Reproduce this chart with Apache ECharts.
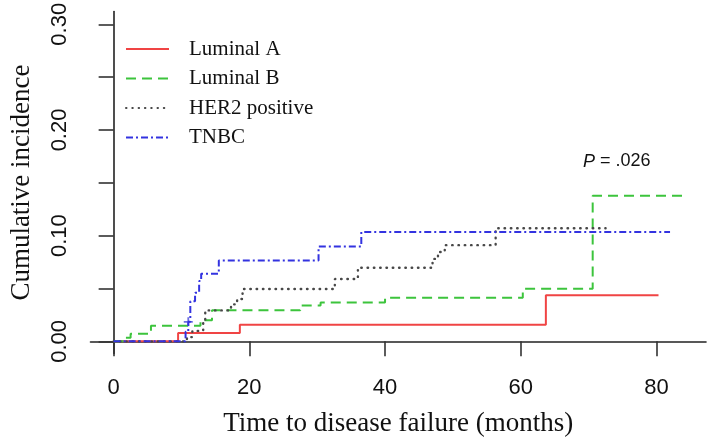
<!DOCTYPE html>
<html>
<head>
<meta charset="utf-8">
<script src="https://cdn.jsdelivr.net/npm/echarts@6/dist/echarts.min.js"></script>
<style>html,body{margin:0;padding:0;background:#fff;}#c{width:709px;height:442px;}</style>
</head>
<body>
<div id="c"></div>
<script>
// ---- data (time in months, cumulative incidence) ----
const seriesNames = ['Luminal A', 'Luminal B', 'HER2 positive', 'TNBC'];

const lumA_time = [0, 9.5, 18.6, 63.7, 80.3];
const lumA_cif  = [0, 0.0078, 0.0156, 0.0435, 0.0435];

const lumB_time = [0, 1.5, 2.5, 5.5, 12.8, 14.5, 27.5, 30.5, 40.0, 60.3, 70.6, 84.2];
const lumB_cif  = [0, 0.0035, 0.0072, 0.0148, 0.020, 0.0295, 0.034, 0.0368, 0.0412, 0.0497, 0.1378, 0.1378];

const her2_time = [0, 10.8, 11.6, 13.2, 13.5, 17.3, 18.2, 19.0, 32.6, 36.0, 47.0, 47.8, 48.8, 56.3, 72.5];
const her2_cif  = [0, 0.004, 0.0099, 0.020, 0.0293, 0.035, 0.040, 0.0495, 0.059, 0.0697, 0.078, 0.0845, 0.091, 0.107, 0.107];

const tnbc_time = [0, 10.6, 11.0, 11.3, 12.0, 12.6, 12.9, 15.5, 30.2, 36.5, 82.0];
const tnbc_cif  = [0, 0.009, 0.0185, 0.038, 0.046, 0.057, 0.064, 0.0765, 0.0897, 0.1035, 0.1035];

// visible censoring mark ("+") on the TNBC curve
const tnbc_censor_time = [11.0];
const tnbc_censor_cif  = [0.0185];

const xTicks = [0, 20, 40, 60, 80];
const yLabelTicks = [0, 0.10, 0.20, 0.30];
const yMinorTicks = [0, 0.05, 0.10, 0.15, 0.20, 0.25, 0.30];

const pValueText = '.026';

function pairs(t, v) { return t.map((x, i) => [x, v[i]]); }

const chart = echarts.init(document.getElementById('c'), null, {renderer: 'canvas'});

const sans = 'Liberation Sans, Arial, sans-serif';
const serif = 'Liberation Serif, Times New Roman, serif';

function mk(name, t, v, color, type, width, cap) {
  return {
    name: name, type: 'line', step: 'end', data: pairs(t, v),
    symbol: 'none', silent: true, animation: false,
    lineStyle: {color: color, type: type, width: width, cap: cap || 'butt'},
    itemStyle: {color: color}
  };
}

chart.setOption({
  animation: false,
  backgroundColor: '#fff',
  grid: {left: 80.5, right: 3, top: 7, bottom: 84.5},
  title: {
    text: '{i|P} = ' + pValueText,
    left: 583, top: 152.5, padding: 0,
    textStyle: {
      fontFamily: sans, fontSize: 18, fontWeight: 'normal', color: '#111', lineHeight: 18,
      rich: {i: {fontFamily: sans, fontSize: 18, fontStyle: 'italic', color: '#111', lineHeight: 18}}
    }
  },
  legend: {
    orient: 'vertical', left: 125, top: 38, padding: 0,
    itemWidth: 43, itemHeight: 14, itemGap: 7.5,
    data: seriesNames,
    itemStyle: {opacity: 0, color: 'transparent', borderWidth: 0},
    textStyle: {fontFamily: serif, fontSize: 21, color: '#111', lineHeight: 22, padding: [0, 0, 0, 15]}
  },
  xAxis: {
    type: 'value', min: -3.41, max: 87.3,
    name: 'Time to disease failure (months)',
    nameLocation: 'middle', nameGap: 70,
    nameTextStyle: {fontFamily: serif, fontSize: 27, color: '#111', verticalAlign: 'middle', align: 'center'},
    axisLine: {show: true, lineStyle: {color: '#222', width: 1.6}},
    axisTick: {show: true, length: 15, customValues: xTicks, lineStyle: {color: '#333', width: 1.6}},
    axisLabel: {customValues: xTicks, margin: 34, verticalAlign: 'middle', align: 'center',
      fontFamily: sans, fontSize: 22, color: '#111'},
    splitLine: {show: false}
  },
  yAxis: {
    type: 'value', min: -0.0115, max: 0.312,
    name: 'Cumulative incidence',
    nameLocation: 'middle', nameGap: 69, nameRotate: 90,
    nameTextStyle: {fontFamily: serif, fontSize: 27, color: '#111', verticalAlign: 'middle', align: 'center'},
    axisLine: {show: true, lineStyle: {color: '#222', width: 1.6}},
    axisTick: {show: true, length: 15, customValues: yMinorTicks, lineStyle: {color: '#333', width: 1.6}},
    axisLabel: {customValues: yLabelTicks, rotate: 90, margin: 30.5, verticalAlign: 'middle', align: 'center',
      fontFamily: sans, fontSize: 22, color: '#111',
      formatter: v => v.toFixed(2)},
    splitLine: {show: false}
  },
  series: [
    mk('Luminal A', lumA_time, lumA_cif, '#f04444', 'solid', 2),
    mk('Luminal B', lumB_time, lumB_cif, '#3cc43c', [10, 6], 2),
    mk('HER2 positive', her2_time, her2_cif, '#484848', [0.5, 5.8], 2.4, 'round'),
    mk('TNBC', tnbc_time, tnbc_cif, '#3333e0', [7, 3, 2, 3], 2),
    {
      name: 'TNBC censored', type: 'scatter', data: pairs(tnbc_censor_time, tnbc_censor_cif),
      symbol: 'path://M4,0 L6,0 L6,4 L10,4 L10,6 L6,6 L6,10 L4,10 L4,6 L0,6 L0,4 L4,4 Z',
      symbolSize: 9, silent: true, animation: false,
      itemStyle: {color: '#4a4ad8'}
    }
  ]
});
</script>
</body>
</html>
